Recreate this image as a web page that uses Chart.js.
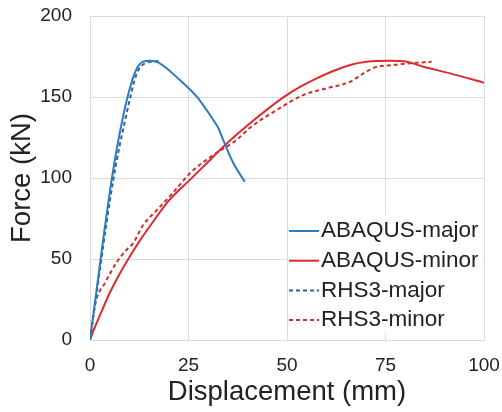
<!DOCTYPE html>
<html><head><meta charset="utf-8">
<script src="https://cdn.jsdelivr.net/npm/chart.js@4/dist/chart.umd.min.js"></script>
<style>html,body{margin:0;padding:0;background:#fff;overflow:hidden}</style>
</head><body>
<canvas id="c" width="502" height="412"></canvas>
<script>
const xTicks = [0, 25, 50, 75, 100];
const yTicks = [0, 50, 100, 150, 200];
const seriesNames = ['ABAQUS-major', 'ABAQUS-minor', 'RHS3-major', 'RHS3-minor'];

const abaqusMajorX = [0, 5.5, 8.4, 11.4, 13.5, 15.2, 17.3, 22.8, 27.1, 31.3, 32.6, 33.8, 36.4, 39.3];
const abaqusMajorY = [0, 99, 138, 165, 171.8, 172.4, 171.4, 160.5, 150.2, 135.8, 130.7, 123.5, 109.1, 97.7];

const abaqusMinorX = [0, 1, 3, 5, 8.5, 12, 16, 20, 25.4, 30, 33.8, 40.6, 49.9, 57.5, 66, 70.2, 76.1, 80.4, 84.6, 91.4, 100];
const abaqusMinorY = [0, 6.5, 18, 29, 45, 59, 73, 86, 99, 110, 119.3, 133.8, 151.2, 161.5, 169.8, 171.8, 172.4, 171.8, 168.7, 164.6, 158.8];

const rhs3MajorX = [0, 5.9, 9.1, 11.9, 14.0, 16.1, 17.6];
const rhs3MajorY = [0, 98.8, 137.7, 164.6, 170.8, 171.8, 172.2];

const rhs3MinorX = [0, 1.3, 4, 6.5, 9, 11, 13.5, 16.9, 21.1, 25.4, 31.3, 37.2, 40.6, 47.4, 54.1, 60.1, 66, 69.4, 72.3, 77, 81.2, 86.7];
const rhs3MinorY = [0, 22, 36, 47, 55, 60, 71, 80, 91, 103, 114.2, 123.5, 131, 142, 151.2, 155.4, 159.4, 164.6, 168.3, 169.8, 170.8, 171.8];

const pts = (xs, ys) => xs.map((x, i) => ({x, y: ys[i]}));

const colors = ['#2b7bc0', '#de2a2c', '#2d619c', '#c9302f'];
const dashes = [[], [], [4, 3], [4, 3]];
const seriesData = [
  pts(abaqusMajorX, abaqusMajorY),
  pts(abaqusMinorX, abaqusMinorY),
  pts(rhs3MajorX, rhs3MajorY),
  pts(rhs3MinorX, rhs3MinorY)
];

const FONT = '"Liberation Sans", Arial, sans-serif';
const TXT = '#222222';
const GRID = '#dcdcdc';

const legendPlugin = {
  id: 'insideLegend',
  afterDraw(chart) {
    const ctx = chart.ctx;
    const ca = chart.chartArea;
    ctx.save();
    ctx.fillStyle = '#ffffff';
    ctx.fillRect(ca.left + 198, ca.top + 199, ca.right - ca.left - 199, 118);
    ctx.font = '22.5px ' + FONT;
    ctx.textBaseline = 'middle';
    ctx.textAlign = 'left';
    chart.data.datasets.forEach((ds, i) => {
      const y = ca.top + 215 + i * 29.7;
      ctx.strokeStyle = ds.borderColor;
      ctx.lineWidth = 2;
      ctx.setLineDash(ds.borderDash || []);
      ctx.beginPath();
      ctx.moveTo(ca.left + 199, y);
      ctx.lineTo(ca.left + 229, y);
      ctx.stroke();
      ctx.setLineDash([]);
      ctx.fillStyle = TXT;
      ctx.fillText(ds.label, ca.left + 231, y);
    });
    ctx.restore();
  }
};

new Chart(document.getElementById('c'), {
  type: 'scatter',
  data: {
    datasets: seriesNames.map((name, i) => ({
      label: name,
      data: seriesData[i],
      showLine: true,
      borderColor: colors[i],
      backgroundColor: colors[i],
      borderWidth: 2,
      borderDash: dashes[i],
      pointRadius: 0,
      cubicInterpolationMode: 'monotone',
      fill: false
    }))
  },
  options: {
    responsive: false,
    animation: false,
    devicePixelRatio: 1,
    layout: {padding: {top: 16, right: 18, left: 0, bottom: 0}},
    plugins: {legend: {display: false}, tooltip: {enabled: false}},
    scales: {
      x: {
        type: 'linear', min: 0, max: 100,
        afterBuildTicks: s => { s.ticks = xTicks.map(v => ({value: v})); },
        afterFit: s => { s.height = 72; s.paddingLeft = 0; s.paddingRight = 0; },
        grid: {color: GRID, drawTicks: false, lineWidth: 1},
        border: {color: GRID},
        ticks: {font: {family: FONT, size: 19}, color: TXT, padding: 14, maxRotation: 0},
        title: {display: true, text: 'Displacement (mm)', color: TXT,
                font: {family: FONT, size: 27.5}, padding: {top: 0, bottom: 3}}
      },
      y: {
        type: 'linear', min: 0, max: 200,
        afterBuildTicks: s => { s.ticks = yTicks.map(v => ({value: v})); },
        afterFit: s => { s.width = 90; s.paddingTop = 0; s.paddingBottom = 0; },
        grid: {color: GRID, drawTicks: false, lineWidth: 1},
        border: {color: GRID},
        ticks: {font: {family: FONT, size: 19}, color: TXT, padding: 18},
        title: {display: true, text: 'Force (kN)', color: TXT,
                font: {family: FONT, size: 27.5}, padding: {top: 6, bottom: 0}}
      }
    }
  },
  plugins: [legendPlugin]
});
</script>
</body></html>
